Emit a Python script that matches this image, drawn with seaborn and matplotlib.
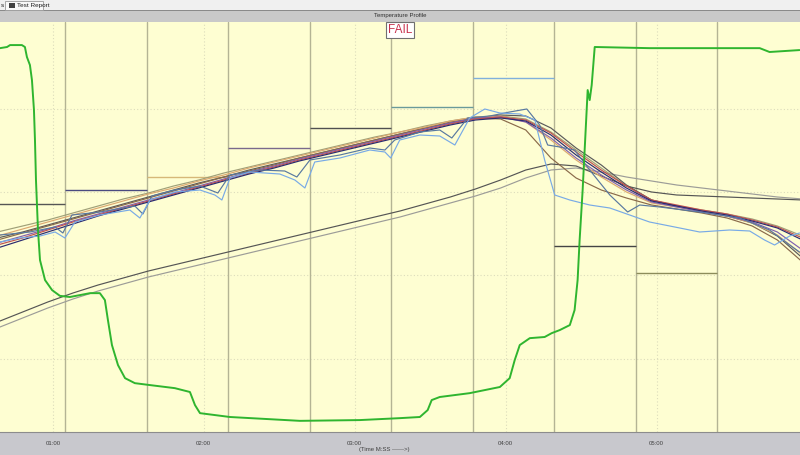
import numpy as np
import pandas as pd
import matplotlib
matplotlib.use("Agg")
import matplotlib.pyplot as plt
from matplotlib.patches import Rectangle
from matplotlib.ticker import MultipleLocator, FixedLocator, FixedFormatter
import seaborn as sns

# ---------------- data ----------------
# sampling times (s) of the smooth thermocouple probes
t_grid = [38, 48, 58, 68, 78, 88, 98, 108, 118, 128, 138, 148, 158, 168, 178, 188,
          198, 208, 218, 228, 238, 248, 258, 268, 278, 288, 298, 308, 318, 328, 338, 348, 358]

tc_navy = [116.4, 121.2, 126.0, 130.8, 135.6, 139.8, 144.0, 148.2, 152.4, 156.6, 160.8, 164.4,
           168.6, 172.2, 175.8, 179.4, 183.0, 186.6, 190.2, 193.2, 194.4, 192.6, 184.2, 172.2,
           162.0, 152.4, 144.6, 141.6, 138.6, 136.2, 132.6, 128.4, 121.2]
tc_red = [118.2, 122.4, 127.2, 132.0, 136.2, 140.4, 144.6, 148.8, 153.0, 157.2, 161.4, 165.0,
          169.2, 172.8, 176.4, 180.0, 183.6, 187.2, 190.8, 193.8, 195.0, 193.2, 185.4, 174.0,
          163.2, 153.6, 145.2, 142.2, 139.2, 136.8, 133.2, 129.0, 122.4]
tc_purple = [119.4, 123.6, 127.8, 132.6, 136.8, 141.0, 145.2, 149.4, 153.6, 157.8, 162.0, 165.6,
             169.8, 173.4, 177.0, 180.6, 184.2, 187.8, 191.4, 194.4, 195.0, 192.0, 182.4, 170.4,
             160.2, 151.2, 144.0, 141.0, 138.0, 135.6, 132.0, 126.0, 115.2]
tc_orange = [123.6, 127.8, 132.0, 136.2, 140.4, 144.6, 148.8, 152.4, 156.6, 160.2, 164.4, 168.0,
             171.6, 175.2, 178.8, 182.4, 186.0, 189.0, 192.6, 195.0, 195.6, 192.0, 181.2, 169.2,
             159.0, 150.0, 143.4, 141.0, 138.6, 135.6, 131.4, 124.2, 112.2]
tc_brown = [121.2, 125.4, 129.6, 133.8, 138.0, 142.2, 146.4, 150.6, 154.8, 159.0, 162.6, 166.2,
            170.4, 174.0, 177.6, 181.2, 184.8, 188.4, 192.0, 194.4, 193.8, 187.2, 170.4, 158.4,
            151.2, 146.4, 142.2, 139.8, 137.4, 134.4, 129.6, 121.2, 108.0]
tc_dark = [122.4, 126.0, 130.2, 134.4, 138.6, 142.8, 147.0, 151.2, 155.4, 159.0, 163.2, 166.8,
           170.4, 174.0, 177.6, 181.2, 184.8, 188.4, 191.4, 194.4, 196.2, 195.6, 188.4, 176.4,
           166.2, 154.2, 145.2, 141.6, 138.6, 135.6, 131.4, 123.6, 110.4]
tc_olive = [126.0, 129.6, 133.2, 137.4, 141.6, 145.8, 149.4, 153.6, 157.2, 161.4, 165.0, 168.6,
            172.2, 175.8, 179.4, 183.0, 186.0, 189.6, 192.6, 195.0, 195.6, 193.8, 186.0, 175.2,
            164.4, 153.6, 145.2, 141.6, 139.2, 136.8, 133.8, 129.6, 123.6]
tc_board_dark = [72.0, 78.0, 84.0, 89.4, 94.2, 98.4, 102.6, 106.2, 109.8, 113.4, 117.0, 120.6,
                 124.2, 127.8, 131.4, 135.0, 138.6, 142.8, 147.0, 151.8, 157.2, 163.2, 166.8, 165.6,
                 159.6, 153.6, 150.0, 148.2, 147.6, 147.0, 146.4, 145.8, 145.2]
tc_board_light = [68.4, 74.4, 80.4, 85.8, 90.6, 94.8, 99.0, 102.6, 106.2, 109.8, 113.4, 117.0,
                  120.6, 124.2, 127.8, 131.4, 135.0, 139.2, 143.4, 147.6, 152.4, 158.4, 163.2, 164.4,
                  162.0, 159.0, 156.6, 154.2, 152.4, 150.6, 148.8, 147.0, 145.8]

# air probes (own time bases)
air1_t = [39.0, 46.9, 54.9, 60.9, 64.8, 68.8, 78.7, 90.6, 94.6, 98.6, 108.5, 118.5, 124.4, 127.2,
          130.4, 138.3, 150.2, 156.2, 160.2, 164.1, 174.1, 186.0, 192.0, 194.3, 197.9, 205.9,
          213.8, 219.8, 225.7, 231.7, 237.7, 245.6, 251.6, 255.5, 259.5, 265.5, 273.4, 281.4,
          289.3, 297.2, 309.2, 317.1, 329.0, 337.0, 342.9, 346.9, 352.9, 356.8]
air1_v = [120.0, 122.4, 123.6, 126.0, 122.4, 132.0, 136.2, 139.2, 134.4, 145.2, 150.0, 151.2, 148.2,
          145.2, 158.4, 162.0, 160.8, 157.2, 152.4, 168.0, 170.4, 175.2, 174.0, 170.4, 181.2, 184.2,
          183.6, 178.2, 194.4, 199.8, 197.4, 196.8, 193.2, 169.2, 148.2, 145.2, 142.2, 140.4, 136.2,
          132.0, 128.4, 126.0, 127.2, 126.6, 121.2, 118.2, 123.6, 125.4]
air2_t = [39.0, 50.9, 60.9, 64.0, 67.6, 78.7, 92.6, 95.8, 99.4, 108.5, 118.5, 125.6, 130.4, 142.3,
          152.2, 157.0, 162.2, 174.1, 186.0, 192.0, 195.9, 205.9, 213.8, 218.6, 224.9, 233.7,
          241.6, 248.4, 253.5, 256.7, 261.5, 267.4, 273.4, 281.4, 288.5, 293.3, 301.2, 317.1,
          333.0, 344.9, 352.9, 356.8]
air2_v = [124.2, 126.0, 129.0, 125.4, 136.2, 138.0, 141.6, 136.8, 147.6, 151.2, 153.6, 149.4, 160.2,
          163.2, 162.6, 159.0, 169.2, 172.2, 176.4, 175.2, 181.2, 186.0, 187.2, 182.4, 194.4, 195.6,
          198.0, 199.8, 190.2, 178.2, 177.0, 175.2, 163.2, 148.2, 138.0, 142.2, 141.0, 138.0, 134.4,
          127.2, 118.2, 114.0]

# oxygen level (ppm)
o2_t = [39.0, 41.8, 43.0, 47.7, 48.9, 49.7, 50.9, 51.7, 52.5, 52.9, 53.3, 54.1, 54.9, 56.9, 59.7,
        62.8, 66.8, 70.8, 74.8, 78.7, 80.7, 81.9, 83.5, 85.9, 88.7, 92.6, 98.6, 108.5, 114.5,
        116.5, 118.5, 130.4, 158.2, 182.0, 197.9, 205.9, 209.0, 210.6, 213.8, 225.7, 237.7,
        241.6, 243.6, 245.6, 249.6, 255.5, 258.3, 261.5, 265.5, 267.4, 268.6, 269.4, 270.6,
        271.8, 272.6, 273.4, 274.2, 275.4, 297.2, 317.1, 341.0, 344.9, 356.8]
o2_ppm = [998, 1001, 1006, 1006, 1001, 975, 954, 915, 837, 759, 655, 525, 447, 395, 369,
          354, 351, 356, 361, 361, 343, 291, 226, 174, 140, 127, 122, 114, 104,
          70, 49, 39, 29, 31, 36, 39, 57, 83, 91, 101, 117,
          140, 187, 226, 244, 247, 257, 265, 278, 317, 395, 499, 629,
          785, 889, 863, 902, 1001, 998, 998, 998, 988, 993]

# oven zones
zone_start = [30.0, 64.8, 97.4, 129.6, 162.2, 194.3, 226.9, 259.1, 291.7]
zone_end = [64.8, 97.4, 129.6, 162.2, 194.3, 226.9, 259.1, 291.7, 323.9]
zone_setpoint = [142.8, 151.2, 159.0, 176.4, 188.4, 201.0, 218.4, 117.6, 101.4]
zone_colors = ['#555555', '#4a4a80', '#d6b878', '#7a6a8c', '#505050', '#6a9a9a',
               '#80b0dc', '#454545', '#8c8c5a']
zone_boundaries = [64.8, 97.4, 129.6, 162.2, 194.3, 226.9, 259.1, 291.7, 323.9]

tick_times = [60, 120, 180, 240, 300]
tick_labels = ["01:00", "02:00", "03:00", "04:00", "05:00"]

probes = [
    ("board light", t_grid, tc_board_light, '#9c9c98'),
    ("board dark", t_grid, tc_board_dark, '#555555'),
    ("olive", t_grid, tc_olive, '#a0a078'),
    ("dark", t_grid, tc_dark, '#5a5a5a'),
    ("brown", t_grid, tc_brown, '#8a6a4a'),
    ("orange", t_grid, tc_orange, '#dca870'),
    ("purple", t_grid, tc_purple, '#8060b0'),
    ("red", t_grid, tc_red, '#c05050'),
    ("navy", t_grid, tc_navy, '#2a2a70'),
    ("air 2", air2_t, air2_v, '#5878a0'),
    ("air 1", air1_t, air1_v, '#78aae6'),
]

# ---------------- figure ----------------
sns.set_theme(style="white")
plt.rcParams['font.family'] = ['Liberation Sans', 'DejaVu Sans']

W, H = 800, 455
fig = plt.figure(figsize=(W / 100, H / 100), dpi=100, facecolor='#f0f0f0')

def fy(px):
    return 1 - px / H

# title bar
fig.add_artist(Rectangle((0, fy(22)), 1, 12 / H, transform=fig.transFigure,
                         facecolor='#c9c9c9', edgecolor='none'))
fig.add_artist(Rectangle((0, fy(10.5)), 1, 1 / H, transform=fig.transFigure,
                         facecolor='#8a8a8a', edgecolor='none'))
fig.text(0.5, fy(16), "Temperature Profile", ha='center', va='center', fontsize=4.3, color='#303030')
# tab
fig.add_artist(Rectangle((5 / W, fy(10)), 38 / W, 9 / H, transform=fig.transFigure,
                         facecolor='#f8f8f8', edgecolor='#9a9a9a', lw=0.6))
fig.add_artist(Rectangle((8.5 / W, fy(8)), 6 / W, 5 / H, transform=fig.transFigure,
                         facecolor='#404040', edgecolor='none'))
fig.text(17 / W, fy(5.5), "Test Report", ha='left', va='center', fontsize=4.6, color='#202020')
fig.text(0.5 / W, fy(5.5), "s", ha='left', va='center', fontsize=4.6, color='#202020')

# main plot area
ax = fig.add_axes([0, 23 / H, 1, 410 / H])
ax.set_facecolor('#fefed2')
ax.set_xlim(39, 357)
ax.set_ylim(6, 252)
for s in ax.spines.values():
    s.set_visible(False)
ax.set_xticks([])
ax.set_yticks([])

for gy in [50, 100, 150, 200]:
    ax.axhline(gy, color='#dcdcbc', lw=0.8, ls=(0, (1, 2)), zorder=0.5)
for gx in tick_times:
    ax.axvline(gx, color='#dcdcbc', lw=0.8, ls=(0, (1, 2)), zorder=0.5)
for zb in zone_boundaries:
    ax.axvline(zb, color='#b4b494', lw=1.0, zorder=0.8)

ax.hlines(zone_setpoint, zone_start, zone_end, colors=zone_colors, lw=1.0, zorder=1)

for name, tt, vv, col in probes:
    sns.lineplot(x=tt, y=vv, ax=ax, color=col, lw=0.85, sort=False, estimator=None,
                 legend=False, zorder=2)

ax.set_xlabel("")
ax.set_ylabel("")

# oxygen on its own scale
ax_o2 = ax.twinx()
ax_o2.set_ylim(0, 1066)
ax_o2.set_xlim(39, 357)
for s in ax_o2.spines.values():
    s.set_visible(False)
ax_o2.set_yticks([])
sns.lineplot(x=o2_t, y=o2_ppm, ax=ax_o2, color='#2fb52f', lw=1.4, sort=False,
             estimator=None, legend=False, zorder=3)
ax_o2.set_ylabel("")
ax_o2.set_xticks([])

fig.text(0.5, fy(30), "FAIL", ha='center', va='center', fontsize=8.5, color='#c8304c',
         bbox=dict(boxstyle='square,pad=0.15', facecolor='white', edgecolor='#707070', lw=0.8))

# bottom time bar
axb = fig.add_axes([0, 0, 1, 23 / H])
axb.set_facecolor('#c8c8cd')
axb.set_xlim(39, 357)
axb.set_ylim(0, 1)
axb.set_yticks([])
for k in ['left', 'right']:
    axb.spines[k].set_visible(False)
axb.spines['top'].set_color('#8c8c8c')
axb.spines['top'].set_linewidth(0.8)
axb.spines['bottom'].set_position(('axes', 0.5))
axb.spines['bottom'].set_visible(False)
axb.xaxis.set_major_locator(FixedLocator(tick_times))
axb.xaxis.set_major_formatter(FixedFormatter(tick_labels))
axb.xaxis.set_minor_locator(MultipleLocator(12))
axb.tick_params(axis='x', which='major', length=0, pad=0, labelsize=4.3, labelcolor='#404040')
axb.tick_params(axis='x', which='minor', length=3, width=0.6, direction='inout', color='#606060')
for lbl in axb.get_xticklabels():
    lbl.set_verticalalignment('center')
axb.text(0.48, 0.25, "(Time M:SS ------>)", transform=axb.transAxes, ha='center', va='center',
         fontsize=4.3, color='#404040')

fig.savefig("out.png", dpi=100, facecolor=fig.get_facecolor())
